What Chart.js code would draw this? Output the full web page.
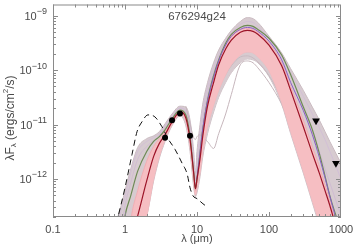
<!DOCTYPE html>
<html>
<head>
<meta charset="utf-8">
<script src="https://cdn.jsdelivr.net/npm/chart.js@4.4.0/dist/chart.umd.min.js"></script>
<style>
  html, body { margin: 0; padding: 0; background: #fff; }
  #wrap { width: 354px; height: 246px; }
</style>
</head>
<body>
<div id="wrap"><canvas id="sed" width="354" height="246"></canvas></div>
<script>
/**
 * SED plot of source 676294g24 (model grid + best fit + photometry)
 */

// Common wavelength grid (micron) used by the model curves
const lam = [0.7, 0.8, 0.9, 1.0, 1.2, 1.5, 2.0, 2.5, 3.0, 3.6, 4.5, 5.8, 7, 8, 9, 9.5, 10, 11, 12, 14, 17, 20, 25, 30, 40, 50, 60, 70, 100, 150, 200, 300, 400, 500, 600, 700, 850, 1000];

// Best fit (dark red)
const bestFit = [null, null, null, null, 7.6e-14, 2.1e-13, 9.2e-13, 2.6e-12, 4.5e-12, 6.5e-12, 1.12e-11, 1.69e-11, 1.32e-11, 5.3e-12, 1.28e-12, 6.6e-13, 1.0e-12, 2.3e-12, 6.0e-12, 2.17e-11, 5.9e-11, 1.25e-10, 2.43e-10, 3.53e-10, 4.93e-10, 5.36e-10, 5.14e-10, 4.54e-10, 2.87e-10, 1.20e-10, 4.23e-11, 9.1e-12, 2.95e-12, 1.28e-12, 6.1e-13, 3.25e-13, 1.36e-13, 7.6e-14];

// Other highlighted fits
const greenFit = [null, null, 7.6e-14, 2.1e-13, 4.9e-13, 1.39e-12, 3.2e-12, 4.9e-12, 6.0e-12, 8.0e-12, 1.27e-11, 1.84e-11, 1.5e-11, 6.0e-12, 1.28e-12, 6.6e-13, 1.0e-12, 2.95e-12, 8.0e-12, 2.79e-11, 7.9e-11, 1.54e-10, 3.12e-10, 4.54e-10, 6.07e-10, 6.6e-10, 6.33e-10, 5.58e-10, 3.84e-10, 1.89e-10, 8.2e-11, 2.09e-11, 8.0e-12, 2.95e-12, 1.13e-12, 4.9e-13, 2.14e-13, 1.15e-13];
const purpleFit = [null, null, null, null, null, null, null, null, null, null, null, null, null, null, null, null, 1.0e-12, 2.95e-12, 8.0e-12, 2.7e-11, 7.3e-11, 1.47e-10, 2.87e-10, 4.17e-10, 5.58e-10, 6.07e-10, 5.82e-10, 5.14e-10, 3.39e-10, 1.54e-10, 5.9e-11, 1.8e-11, 6.5e-12, 2.5e-12, 1.05e-12, 4.8e-13, 1.9e-13, 1.0e-13];

// Pink band of good fits (upper / lower edge)
const pinkHi = [1e-14, 1e-14, 1e-14, 1e-14, 1.6e-13, 6.1e-13, 2.11e-12, 3.95e-12, 5.5e-12, 7.4e-12, 1.16e-11, 1.77e-11, 1.43e-11, 5.7e-12, 1.28e-12, 6.1e-13, 8.5e-13, 2.11e-12, 6.8e-12, 2.57e-11, 7.3e-11, 1.47e-10, 2.87e-10, 4.17e-10, 5.58e-10, 5.82e-10, 5.58e-10, 4.93e-10, 3.12e-10, 1.36e-10, 5.0e-11, 1.21e-11, 3.95e-12, 1.72e-12, 7.7e-13, 4.0e-13, 1.6e-13, 7.6e-14];
const pinkLo = [1e-14, 1e-14, 1e-14, 1e-14, 1e-14, 7.6e-14, 2.06e-13, 1.0e-12, 2.6e-12, 5.3e-12, 9.9e-12, 1.5e-11, 1.12e-11, 3.95e-12, 8.5e-13, 5.1e-13, 6.6e-13, 1.28e-12, 3.21e-12, 9.1e-12, 2.27e-11, 4.23e-11, 8.2e-11, 1.25e-10, 1.89e-10, 2.14e-10, 2.06e-10, 1.74e-10, 9.7e-11, 2.57e-11, 7.4e-12, 1.39e-12, 4.0e-13, 1.6e-13, 7.6e-14, 1e-14, 1e-14, 1e-14];

// Grey envelope of all models
const greyHi = [7.6e-14, 2.06e-13, 3.5e-13, 6.1e-13, 1.52e-12, 3.79e-12, 5.5e-12, 6.2e-12, 7.4e-12, 1.03e-11, 1.56e-11, 2.17e-11, 2.09e-11, 1.21e-11, 3.21e-12, 1.28e-12, 3.21e-12, 9.9e-12, 2.36e-11, 5.9e-11, 1.36e-10, 2.33e-10, 3.84e-10, 5.36e-10, 7.8e-10, 9.2e-10, 8.8e-10, 7.5e-10, 4.17e-10, 2.06e-10, 1.06e-10, 4.23e-11, 2.09e-11, 1.21e-11, 7.4e-12, 4.86e-12, 2.95e-12, 1.95e-12];
const greyLo = [1e-14, 1e-14, 1e-14, 1e-14, 1e-14, 7.6e-14, 2.06e-13, 9.2e-13, 2.4e-12, 4.86e-12, 9.5e-12, 1.43e-11, 9.46e-12, 3.21e-12, 7.1e-13, 4.7e-13, 5.6e-13, 1.09e-12, 2.5e-12, 6.8e-12, 1.69e-11, 3.16e-11, 5.9e-11, 8.95e-11, 1.36e-10, 1.6e-10, 1.54e-10, 1.36e-10, 7.6e-11, 2.36e-11, 6.8e-12, 1.28e-12, 3.68e-13, 1.41e-13, 7.6e-14, 1e-14, 1e-14, 1e-14];

// A few individual grey models
const greyA = [null, null, null, null, null, null, null, null, null, null, null, null, 2.17e-11, 1.03e-11, 5.74e-12, 5.28e-12, 5.98e-12, 6.5e-12, 5.74e-12, 4.86e-12, 3.63e-12, 6.78e-12, 1.56e-11, 3.58e-11, 1.25e-10, 1.47e-10, 1.36e-10, 1.1e-10, 5.9e-11, 2.36e-11, 9.46e-12, 2.11e-12, 6.07e-13, 2.24e-13, 9.0e-14, null, null, null];
const greyB = [null, null, null, null, null, null, null, null, null, null, null, null, null, null, null, 4.93e-13, 7.47e-13, 1.72e-12, 3.48e-12, 1.03e-11, 2.79e-11, 4.79e-11, 8.23e-11, 1.2e-10, 1.74e-10, 1.82e-10, 1.67e-10, 1.41e-10, 7.9e-11, 3.0e-11, 1.21e-11, 2.6e-12, 7.47e-13, 2.64e-13, 1.15e-13, null, null, null];
const greyC = [null, null, null, null, null, null, null, null, null, null, null, null, null, null, null, 5.58e-13, 1.13e-12, 3.21e-12, 7.37e-12, 1.84e-11, 4.23e-11, 7.27e-11, 1.36e-10, 2.06e-10, 2.87e-10, 3.12e-10, 2.99e-10, 2.64e-10, 1.6e-10, 6.42e-11, 2.79e-11, 6.78e-12, 2.11e-12, 7.47e-13, 3.25e-13, 1.6e-13, null, null];
const lilacA = [null, 1.6e-13, 2.87e-13, 4.7e-13, 1.28e-12, 3.21e-12, 4.86e-12, 5.74e-12, 6.78e-12, 9.46e-12, 1.43e-11, 2.0e-11, 1.84e-11, 1.03e-11, 2.11e-12, 9.2e-13, 2.11e-12, 7.37e-12, 1.84e-11, 4.79e-11, 1.1e-10, 1.89e-10, 3.39e-10, 4.73e-10, 6.88e-10, 7.79e-10, 7.47e-10, 6.33e-10, 3.68e-10, 1.74e-10, 8.95e-11, 3.3e-11, 1.56e-11, 8.7e-12, 5.28e-12, 3.21e-12, 1.72e-12, 1.0e-12];
const lilacB = [null, null, 1.36e-13, 3.25e-13, 8.46e-13, 2.3e-12, 3.95e-12, 5.07e-12, 6.24e-12, 8.7e-12, 1.32e-11, 2.0e-11, 1.69e-11, 8.0e-12, 1.72e-12, 7.47e-13, 1.39e-12, 4.47e-12, 1.21e-11, 3.58e-11, 8.95e-11, 1.6e-10, 2.87e-10, 4.0e-10, 5.58e-10, 6.33e-10, 6.07e-10, 5.14e-10, 3.12e-10, 1.36e-10, 5.9e-11, 1.84e-11, 6.78e-12, 3.21e-12, 1.52e-12, 8.46e-13, 4.0e-13, 2.14e-13];

// Stellar photosphere (dashed)
const photLam = [0.76, 0.80, 1.0, 1.25, 1.47, 1.72, 2.08, 2.6, 3.26, 3.95, 4.95, 6.2, 7.3, 8.0, 8.8, 10, 12.1, 14.2];
const photFlux = [1.5e-13, 2.0e-13, 6.9e-13, 2.8e-12, 7.4e-12, 1.12e-11, 1.5e-11, 1.38e-11, 9.1e-12, 5.5e-12, 3.5e-12, 1.95e-12, 1.23e-12, 6.9e-13, 4.9e-13, 4.35e-13, 3.5e-13, 3.0e-13];

// Photometry and upper limits
const obsLam = [3.6, 4.5, 5.8, 8.0];
const obsFlux = [5.7e-12, 1.2e-11, 1.6e-11, 6.2e-12];
const limLam = [450, 850];
const limFlux = [1.17e-11, 1.95e-12];

// Axes
const xTickVals = [0.1, 1, 10, 100, 1000];
const xTickText = ['0.1', '1', '10', '100', '1000'];
const yTickVals = [1e-12, 1e-11, 1e-10, 1e-9];
const yTickExp = ['\u221212', '\u221211', '\u221210', '\u22129'];

const FONT = '"Liberation Sans", Arial, sans-serif';
const TEXT = '#4a4a4a';
const AXIS = '#8a8a8a';

function series(xs, ys) {
    return xs.map((x, i) => ({ x: x, y: ys[i] })).filter(p => p.y !== null);
}

function curve(ys, color, width, extra) {
    return Object.assign({
        data: series(lam, ys),
        borderColor: color,
        borderWidth: width,
        pointRadius: 0,
        fill: false,
        cubicInterpolationMode: 'monotone'
    }, extra || {});
}

/**
 * Frame with inward major / minor ticks on the four sides
 */
const framePlugin = {
    id: 'frame',
    afterDatasetsDraw(chart) {
        const { ctx, chartArea: a, scales: { x, y } } = chart;
        ctx.save();
        ctx.strokeStyle = AXIS;
        ctx.lineWidth = 1;
        ctx.strokeRect(a.left + 0.5, a.top + 0.5, a.right - a.left - 1, a.bottom - a.top - 1);

        ctx.beginPath();
        for (let d = 0.1; d < 1000; d *= 10) {
            for (let k = 1; k < 10; k++) {
                const v = k * d;
                if (v < x.min || v > x.max) continue;
                const len = k === 1 ? 5 : 3;
                const px = Math.round(x.getPixelForValue(v)) + 0.5;
                ctx.moveTo(px, a.bottom); ctx.lineTo(px, a.bottom - len);
                ctx.moveTo(px, a.top); ctx.lineTo(px, a.top + len);
            }
        }
        for (let d = 1e-13; d < 1e-8; d *= 10) {
            for (let k = 1; k < 10; k++) {
                const v = k * d;
                if (v < y.min || v > y.max) continue;
                const len = k === 1 ? 5 : 3;
                const py = Math.round(y.getPixelForValue(v)) + 0.5;
                ctx.moveTo(a.left, py); ctx.lineTo(a.left + len, py);
                ctx.moveTo(a.right, py); ctx.lineTo(a.right - len, py);
            }
        }
        ctx.stroke();
        ctx.restore();
    },
    afterDraw(chart) {
        const { ctx, chartArea: a, scales: { y } } = chart;
        ctx.save();
        ctx.fillStyle = TEXT;

        // y tick labels 10^n
        ctx.textBaseline = 'middle';
        ctx.textAlign = 'left';
        yTickVals.forEach((v, i) => {
            const py = y.getPixelForValue(v);
            ctx.font = '11px ' + FONT;
            const wBase = ctx.measureText('10').width;
            ctx.font = '9px ' + FONT;
            const wExp = ctx.measureText(yTickExp[i]).width;
            const left = a.left - 6 - wBase - wExp;
            ctx.font = '11px ' + FONT;
            ctx.fillText('10', left, py + 1);
            ctx.font = '9px ' + FONT;
            ctx.fillText(yTickExp[i], left + wBase, py - 4);
        });

        // object name
        ctx.textAlign = 'center';
        ctx.font = '11.5px ' + FONT;
        ctx.fillText('676294g24', (a.left + a.right) / 2, a.top + 12);

        // y title: lambda F_lambda (ergs/cm^2/s)
        const parts = [
            { t: '\u03bbF', s: 12, dy: 0 },
            { t: '\u03bb', s: 8, dy: 3 },
            { t: ' (ergs/cm', s: 12, dy: 0 },
            { t: '2', s: 8, dy: -5 },
            { t: '/s)', s: 12, dy: 0 }
        ];
        let total = 0;
        parts.forEach(p => { ctx.font = p.s + 'px ' + FONT; p.w = ctx.measureText(p.t).width; total += p.w; });
        ctx.translate(11, 118);
        ctx.rotate(-Math.PI / 2);
        ctx.textAlign = 'left';
        let cx = -total / 2;
        parts.forEach(p => {
            ctx.font = p.s + 'px ' + FONT;
            ctx.fillText(p.t, cx, p.dy);
            cx += p.w;
        });
        ctx.restore();
    }
};

const datasets = [
    {
        data: series(obsLam, obsFlux),
        showLine: false,
        pointRadius: 3,
        pointBackgroundColor: '#000',
        pointBorderWidth: 0
    },
    {
        data: series(limLam, limFlux),
        showLine: false,
        pointStyle: 'triangle',
        rotation: 180,
        pointRadius: 4.5,
        pointBackgroundColor: '#000',
        pointBorderWidth: 0
    },
    {
        data: series(photLam, photFlux),
        borderColor: '#111',
        borderWidth: 1,
        borderDash: [6, 4],
        pointRadius: 0,
        fill: false,
        cubicInterpolationMode: 'monotone'
    },
    curve(bestFit, '#9c1428', 1.2),
    curve(purpleFit, '#8a62c6', 1),
    curve(greenFit, '#6e8b55', 1.2),
    curve(pinkHi, '#f2adb3', 1, { fill: '+1', backgroundColor: '#f6bec2' }),
    curve(pinkLo, '#f2b8bd', 1),
    curve(greyA, '#c6b6bc', 1),
    curve(greyB, '#c9bac0', 1),
    curve(greyC, '#c9bac0', 1),
    curve(lilacA, '#d2bfd6', 1),
    curve(lilacB, '#d0bcd2', 1),
    curve(greyHi, '#cbbcc2', 1, { fill: '+1', backgroundColor: '#d7cbd0' }),
    curve(greyLo, '#cbbcc2', 1)
];

new Chart(document.getElementById('sed'), {
    type: 'line',
    data: { datasets: datasets },
    options: {
        responsive: false,
        animation: false,
        events: [],
        layout: { padding: { top: 1, right: 13, bottom: 0, left: 0 } },
        plugins: {
            legend: { display: false },
            tooltip: { enabled: false }
        },
        scales: {
            x: {
                type: 'logarithmic',
                min: 0.1,
                max: 1000,
                grid: { display: false, drawTicks: false },
                border: { display: false },
                afterBuildTicks: scale => { scale.ticks = xTickVals.map(v => ({ value: v })); },
                afterFit: scale => { scale.height = 29; scale.paddingLeft = 0; scale.paddingRight = 0; },
                ticks: {
                    autoSkip: false,
                    maxRotation: 0,
                    padding: 6,
                    color: TEXT,
                    font: { family: FONT, size: 11 },
                    callback: (value, index) => xTickText[index]
                },
                title: {
                    display: true,
                    text: '\u03bb (\u03bcm)',
                    color: TEXT,
                    font: { family: FONT, size: 11 },
                    padding: { top: 0, bottom: 0 }
                }
            },
            y: {
                type: 'logarithmic',
                min: 2e-13,
                max: 1.6e-9,
                grid: { display: false, drawTicks: false },
                border: { display: false },
                afterBuildTicks: scale => { scale.ticks = yTickVals.map(v => ({ value: v })); },
                afterFit: scale => { scale.width = 53; scale.paddingTop = 0; scale.paddingBottom = 0; },
                ticks: { display: false }
            }
        }
    },
    plugins: [framePlugin]
});
</script>
</body>
</html>
